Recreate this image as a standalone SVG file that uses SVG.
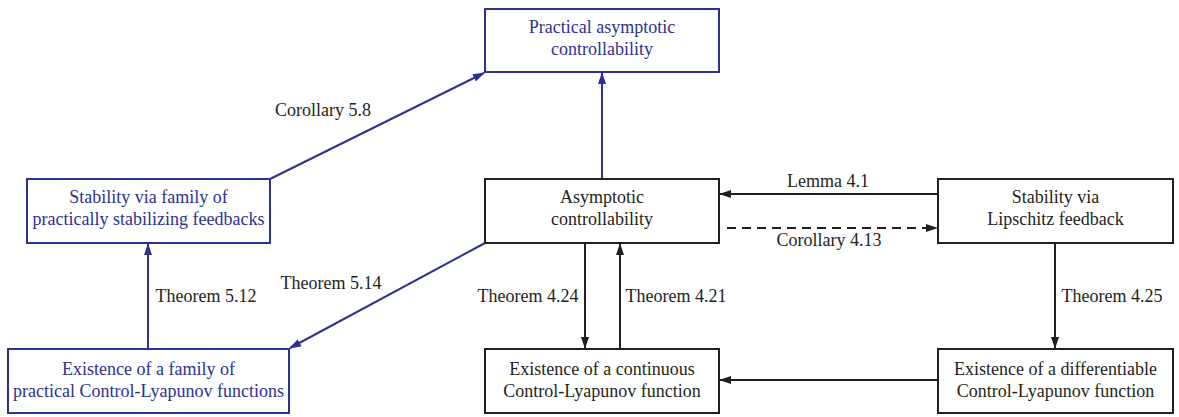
<svg xmlns="http://www.w3.org/2000/svg" width="1179" height="417" viewBox="0 0 1179 417">
<defs>
<marker id="ab" markerWidth="12" markerHeight="8" refX="11" refY="4" orient="auto" markerUnits="userSpaceOnUse"><path d="M0,0 L12,4 L0,8 Z" fill="#2e3192"/></marker>
<marker id="ak" markerWidth="12" markerHeight="8" refX="11" refY="4" orient="auto" markerUnits="userSpaceOnUse"><path d="M0,0 L12,4 L0,8 Z" fill="#231f20"/></marker>
</defs>
<g id="connectors" fill="none" stroke-width="2">
<g stroke="#2e3192">
<line x1="602" y1="179" x2="602" y2="73" marker-end="url(#ab)"/>
<line x1="270" y1="179" x2="484" y2="73" marker-end="url(#ab)"/>
<line x1="148" y1="349" x2="148" y2="244" marker-end="url(#ab)"/>
<line x1="485" y1="243" x2="290" y2="348" marker-end="url(#ab)"/>
</g>
<g stroke="#231f20">
<line x1="938" y1="194" x2="720" y2="194" marker-end="url(#ak)"/>
<line x1="727" y1="228" x2="937" y2="228" stroke-dasharray="9,6" marker-end="url(#ak)"/>
<line x1="585" y1="243" x2="585" y2="348" marker-end="url(#ak)"/>
<line x1="620" y1="349" x2="620" y2="244" marker-end="url(#ak)"/>
<line x1="1055" y1="243" x2="1055" y2="348" marker-end="url(#ak)"/>
<line x1="938" y1="380" x2="720" y2="380" marker-end="url(#ak)"/>
</g>
<g fill="#231f20" stroke="none">
<text x="323" y="116" style="font-family:'Times New Roman','Liberation Serif',serif;font-size:18px;text-anchor:middle">Corollary 5.8</text>
<text x="206" y="302" style="font-family:'Times New Roman','Liberation Serif',serif;font-size:18px;text-anchor:middle">Theorem 5.12</text>
<text x="331" y="289" style="font-family:'Times New Roman','Liberation Serif',serif;font-size:18px;text-anchor:middle">Theorem 5.14</text>
<text x="828" y="187" style="font-family:'Times New Roman','Liberation Serif',serif;font-size:18px;text-anchor:middle">Lemma 4.1</text>
<text x="829" y="246" style="font-family:'Times New Roman','Liberation Serif',serif;font-size:18px;text-anchor:middle">Corollary 4.13</text>
<text x="528" y="302" style="font-family:'Times New Roman','Liberation Serif',serif;font-size:18px;text-anchor:middle">Theorem 4.24</text>
<text x="676" y="302" style="font-family:'Times New Roman','Liberation Serif',serif;font-size:18px;text-anchor:middle">Theorem 4.21</text>
<text x="1112" y="302" style="font-family:'Times New Roman','Liberation Serif',serif;font-size:18px;text-anchor:middle">Theorem 4.25</text>
</g>
</g>
<g id="n-pac">
<rect x="485" y="9" width="234" height="63" fill="#fff" stroke="#2e3192" stroke-width="2"/>
<text x="602" y="33" fill="#2e3192" style="font-family:'Times New Roman','Liberation Serif',serif;font-size:18px;text-anchor:middle">Practical asymptotic</text>
<text x="602" y="55" fill="#2e3192" style="font-family:'Times New Roman','Liberation Serif',serif;font-size:18px;text-anchor:middle">controllability</text>
</g>
<g id="n-sfam">
<rect x="27" y="179" width="243" height="64" fill="#fff" stroke="#2e3192" stroke-width="2"/>
<text x="148.5" y="203" fill="#2e3192" style="font-family:'Times New Roman','Liberation Serif',serif;font-size:18px;text-anchor:middle">Stability via family of</text>
<text x="148.5" y="225" fill="#2e3192" style="font-family:'Times New Roman','Liberation Serif',serif;font-size:18px;text-anchor:middle">practically stabilizing feedbacks</text>
</g>
<g id="n-ac">
<rect x="485" y="179" width="234" height="64" fill="#fff" stroke="#231f20" stroke-width="2"/>
<text x="602" y="203" fill="#231f20" style="font-family:'Times New Roman','Liberation Serif',serif;font-size:18px;text-anchor:middle">Asymptotic</text>
<text x="602" y="225" fill="#231f20" style="font-family:'Times New Roman','Liberation Serif',serif;font-size:18px;text-anchor:middle">controllability</text>
</g>
<g id="n-lip">
<rect x="938" y="179" width="235" height="64" fill="#fff" stroke="#231f20" stroke-width="2"/>
<text x="1055.5" y="203" fill="#231f20" style="font-family:'Times New Roman','Liberation Serif',serif;font-size:18px;text-anchor:middle">Stability via</text>
<text x="1055.5" y="225" fill="#231f20" style="font-family:'Times New Roman','Liberation Serif',serif;font-size:18px;text-anchor:middle">Lipschitz feedback</text>
</g>
<g id="n-efam">
<rect x="8" y="349" width="281" height="64" fill="#fff" stroke="#2e3192" stroke-width="2"/>
<text x="148.5" y="375" fill="#2e3192" style="font-family:'Times New Roman','Liberation Serif',serif;font-size:18px;text-anchor:middle">Existence of a family of</text>
<text x="148.5" y="397" fill="#2e3192" style="font-family:'Times New Roman','Liberation Serif',serif;font-size:18px;text-anchor:middle">practical Control-Lyapunov functions</text>
</g>
<g id="n-cont">
<rect x="485" y="349" width="234" height="64" fill="#fff" stroke="#231f20" stroke-width="2"/>
<text x="602" y="375" fill="#231f20" style="font-family:'Times New Roman','Liberation Serif',serif;font-size:18px;text-anchor:middle">Existence of a continuous</text>
<text x="602" y="397" fill="#231f20" style="font-family:'Times New Roman','Liberation Serif',serif;font-size:18px;text-anchor:middle">Control-Lyapunov function</text>
</g>
<g id="n-diff">
<rect x="938" y="349" width="235" height="64" fill="#fff" stroke="#231f20" stroke-width="2"/>
<text x="1055.5" y="375" fill="#231f20" style="font-family:'Times New Roman','Liberation Serif',serif;font-size:18px;text-anchor:middle">Existence of a differentiable</text>
<text x="1055.5" y="397" fill="#231f20" style="font-family:'Times New Roman','Liberation Serif',serif;font-size:18px;text-anchor:middle">Control-Lyapunov function</text>
</g>
</svg>
